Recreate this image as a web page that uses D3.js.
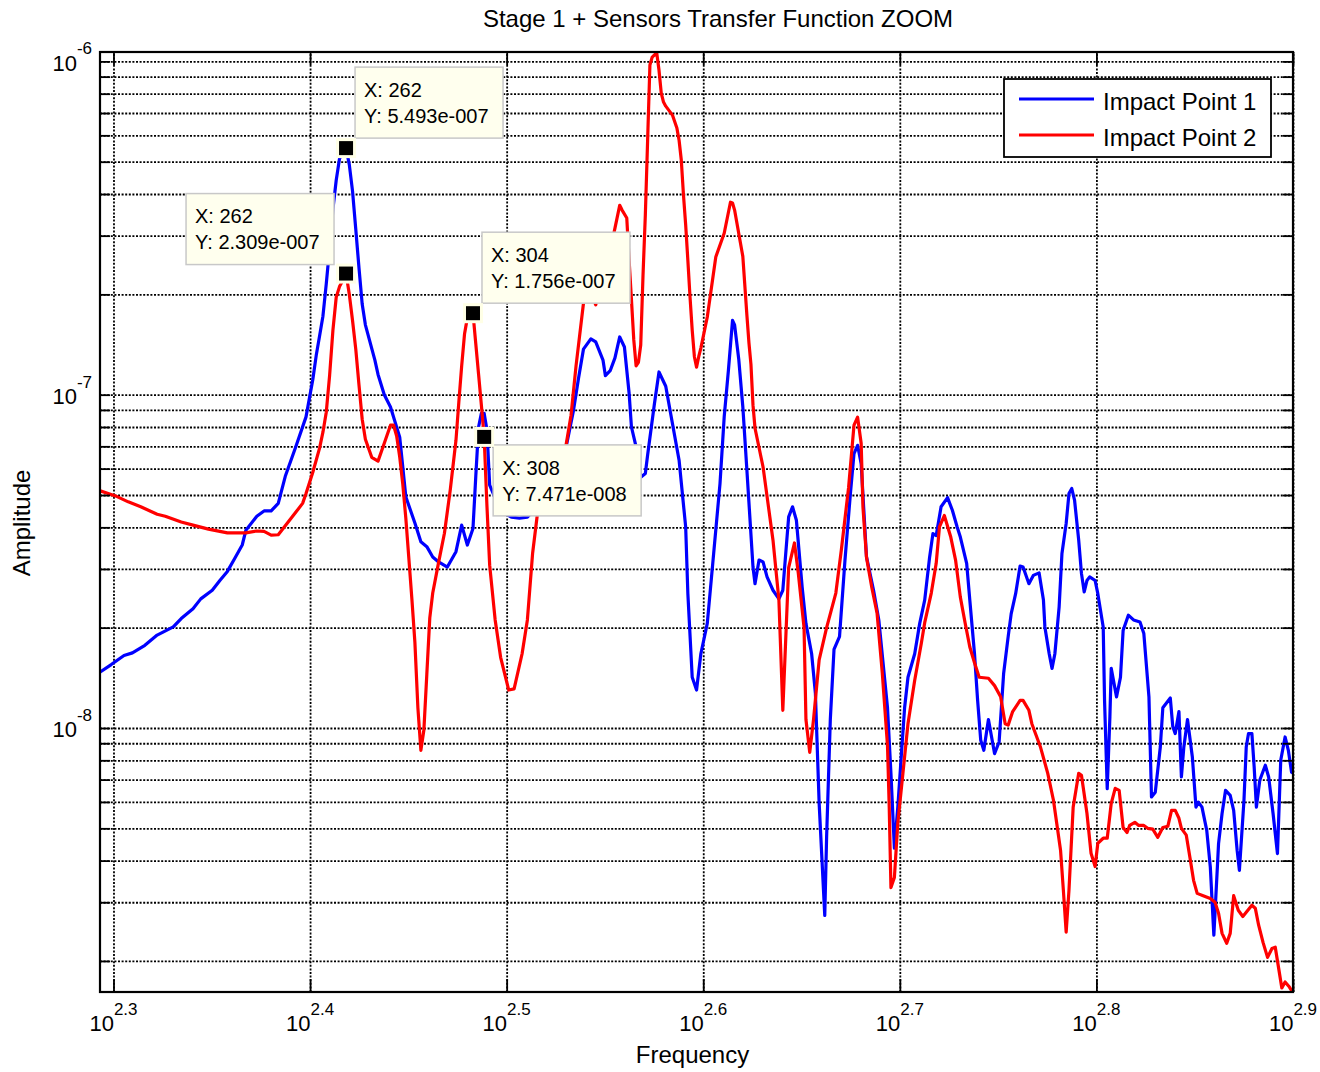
<!DOCTYPE html>
<html>
<head>
<meta charset="utf-8">
<script src="https://cdn.jsdelivr.net/npm/d3@7"></script>
<style>
  html, body { margin: 0; padding: 0; background: #fff; }
  svg { display: block; font-family: "Liberation Sans", Arial, Helvetica, sans-serif; }
</style>
</head>
<body>
<svg id="chart" width="1320" height="1072"></svg>
<script>
// ---- Measured transfer function, Impact Point 1 (frequency in Hz, amplitude) ----
const freq1 = [
  196,199,202,204,207,210,214,216,219,221,
  224,226,228,230,232,233,236,238,240,242,
  244,247,250,252,253,254,255,256,257,258,
  259,260,261,262,263,264,265,266,267,268,
  271,272,274,276,279,281,284,286,288,290,
  292,295,298,300,302,304,305,306,307,308,
  309,310,312,315,318,321,324,327,330,333,
  336,339,342,344,346,349,351,354,355,357,
  359,361,363,365,366,368,370,372,373,376,
  378,381,384,387,390,391,393,395,397,400,
  403,406,408,410,412,413,415,417,419,422,
  423,425,427,429,432,435,437,440,442,444,
  447,449,452,454,456,459,460,462,464,467,
  470,473,475,477,479,482,486,489,494,496,
  498,500,502,504,506,510,513,516,519,521,
  523,526,530,533,536,538,542,544,547,549,
  551,553,556,560,563,566,569,571,574,577,
  579,583,586,590,593,594,597,599,601,604,
  606,609,611,613,615,618,620,622,624,626,
  630,632,636,637,639,641,642,646,649,651,
  655,659,664,667,671,673,676,680,682,688,
  690,692,695,697,699,702,706,709,711,714,
  718,721,724,727,728,731,734,738,741,744,
  746,750,752,754,757,759,761,764,769,772,
  776,780,783,787,790,793,795
];
const amp1 = [
  1.46e-8,1.55e-8,1.65e-8,1.68e-8,1.77e-8,1.90e-8,2.01e-8,2.13e-8,2.28e-8,2.44e-8,
  2.59e-8,2.77e-8,2.95e-8,3.23e-8,3.54e-8,3.92e-8,4.32e-8,4.48e-8,4.48e-8,4.72e-8,
  5.69e-8,6.97e-8,8.58e-8,1.11e-7,1.31e-7,1.50e-7,1.72e-7,2.15e-7,2.75e-7,3.60e-7,
  4.40e-7,5.10e-7,5.35e-7,5.493e-7,4.90e-7,4.08e-7,3.14e-7,2.40e-7,1.87e-7,1.62e-7,
  1.27e-7,1.15e-7,1.00e-7,9.19e-8,7.46e-8,4.94e-8,4.12e-8,3.62e-8,3.50e-8,3.26e-8,
  3.15e-8,3.04e-8,3.38e-8,4.06e-8,3.54e-8,3.97e-8,5.70e-8,8.00e-8,8.79e-8,8.79e-8,
  7.85e-8,5.35e-8,4.89e-8,4.44e-8,4.29e-8,4.26e-8,4.29e-8,4.56e-8,4.99e-8,5.73e-8,
  6.59e-8,6.95e-8,8.99e-8,1.12e-7,1.37e-7,1.47e-7,1.44e-7,1.27e-7,1.14e-7,1.18e-7,
  1.29e-7,1.49e-7,1.39e-7,1.01e-7,8.00e-8,6.97e-8,5.65e-8,5.80e-8,6.59e-8,9.41e-8,
  1.17e-7,1.06e-7,8.19e-8,6.36e-8,4.01e-8,2.53e-8,1.42e-8,1.30e-8,1.67e-8,2.06e-8,
  3.34e-8,5.41e-8,8.58e-8,1.18e-7,1.67e-7,1.62e-7,1.28e-7,9.20e-8,5.93e-8,3.04e-8,
  2.71e-8,3.19e-8,3.15e-8,2.84e-8,2.59e-8,2.44e-8,2.59e-8,4.30e-8,4.61e-8,4.20e-8,
  2.65e-8,2.06e-8,1.67e-8,1.27e-8,5.94e-9,2.74e-9,4.71e-9,1.06e-8,1.72e-8,1.88e-8,
  3.19e-8,5.05e-8,6.66e-8,7.05e-8,6.21e-8,3.26e-8,2.59e-8,2.11e-8,1.15e-8,7.30e-9,
  4.36e-9,5.79e-9,8.18e-9,1.15e-8,1.42e-8,1.67e-8,2.06e-8,2.42e-8,3.26e-8,3.83e-8,
  3.78e-8,4.61e-8,4.91e-8,4.50e-8,4.01e-8,3.74e-8,3.12e-8,2.42e-8,1.67e-8,1.21e-8,
  9.19e-9,8.57e-9,1.06e-8,8.38e-9,9.08e-9,1.46e-8,1.88e-8,2.20e-8,2.53e-8,3.06e-8,
  3.04e-8,2.71e-8,2.87e-8,2.92e-8,2.42e-8,2.01e-8,1.67e-8,1.51e-8,1.67e-8,2.31e-8,
  3.34e-8,4.11e-8,5.05e-8,5.23e-8,4.83e-8,3.66e-8,2.91e-8,2.56e-8,2.77e-8,2.84e-8,
  2.77e-8,2.53e-8,2.01e-8,1.21e-8,6.58e-9,1.08e-8,1.51e-8,1.24e-8,1.42e-8,1.96e-8,
  2.18e-8,2.11e-8,2.08e-8,1.92e-8,1.24e-8,6.21e-9,6.42e-9,8.77e-9,1.15e-8,1.23e-8,
  1.01e-8,9.62e-9,1.12e-8,7.13e-9,8.77e-9,1.06e-8,8.18e-9,5.79e-9,5.99e-9,5.79e-9,
  4.93e-9,3.83e-9,2.39e-9,3.83e-9,4.50e-9,5.54e-9,6.50e-9,6.28e-9,5.66e-9,4.30e-9,
  3.74e-9,6.07e-9,8.77e-9,9.62e-9,9.62e-9,7.64e-9,5.79e-9,6.97e-9,7.73e-9,7.13e-9,
  5.54e-9,4.20e-9,8.00e-9,9.40e-9,8.57e-9,7.37e-9,7.30e-9
];

// ---- Measured transfer function, Impact Point 2 ----
const freq2 = [
  196,200,203,206,210,212,216,219,223,228,
  233,236,238,240,242,243,246,249,250,252,
  254,255,256,257,258,259,260,261,262,263,
  264,265,266,267,268,270,272,274,276,277,
  278,279,280,281,282,283,284,285,286,287,
  288,289,290,292,294,296,298,299,300,301,
  302,303,304,305,306,307,308,309,310,312,
  314,317,319,322,324,326,328,330,333,336,
  339,341,343,346,348,351,354,357,359,361,
  362,364,365,366,367,368,369,370,371,372,
  373,374,375,376,377,378,379,380,381,382,
  384,386,387,388,389,390,391,392,393,394,
  395,396,397,400,404,408,411,412,413,417,
  419,420,421,422,423,427,432,435,437,440,
  443,445,448,449,451,453,456,460,465,468,
  472,475,477,479,480,482,485,488,491,494,
  495,496,498,500,503,506,510,514,516,520,
  523,525,528,532,535,538,541,544,547,550,
  556,560,564,567,569,572,577,579,583,585,
  591,596,600,605,607,609,611,614,618,620,
  624,627,630,632,636,639,642,645,648,651,
  654,656,660,663,667,670,674,678,682,686,
  689,692,695,697,701,704,707,710,715,721,
  725,728,731,735,738,741,745,749,752,757,
  760,763,767,771,775,778,781,784,787,791,
  794
];
const amp2 = [
  5.17e-8,4.97e-8,4.77e-8,4.61e-8,4.38e-8,4.32e-8,4.15e-8,4.06e-8,3.95e-8,3.85e-8,
  3.85e-8,3.90e-8,3.89e-8,3.79e-8,3.80e-8,3.92e-8,4.30e-8,4.72e-8,5.05e-8,5.85e-8,
  6.91e-8,7.72e-8,8.86e-8,1.14e-7,1.56e-7,1.96e-7,2.11e-7,2.20e-7,2.309e-7,2.00e-7,
  1.67e-7,1.37e-7,1.07e-7,8.44e-8,7.35e-8,6.49e-8,6.32e-8,7.15e-8,8.10e-8,8.10e-8,
  7.52e-8,6.50e-8,5.39e-8,4.26e-8,3.23e-8,2.44e-8,1.81e-8,1.15e-8,8.57e-9,9.84e-9,
  1.45e-8,2.14e-8,2.54e-8,3.14e-8,3.84e-8,5.17e-8,7.30e-8,9.50e-8,1.22e-7,1.52e-7,
  1.70e-7,1.78e-7,1.756e-7,1.42e-7,1.15e-7,9.30e-8,7.471e-8,4.66e-8,3.08e-8,2.11e-8,
  1.63e-8,1.30e-8,1.31e-8,1.67e-8,2.11e-8,3.35e-8,4.50e-8,5.00e-8,5.85e-8,6.72e-8,
  7.05e-8,8.68e-8,1.22e-7,1.88e-7,2.09e-7,1.86e-7,2.29e-7,2.71e-7,3.16e-7,3.70e-7,
  3.58e-7,3.39e-7,2.53e-7,1.93e-7,1.46e-7,1.22e-7,1.25e-7,1.41e-7,2.29e-7,3.46e-7,
  5.80e-7,9.75e-7,1.03e-6,1.045e-6,1.06e-6,9.42e-7,8.03e-7,7.55e-7,7.34e-7,7.19e-7,
  6.90e-7,6.31e-7,5.80e-7,5.06e-7,3.97e-7,3.23e-7,2.53e-7,1.96e-7,1.56e-7,1.30e-7,
  1.21e-7,1.30e-7,1.38e-7,1.71e-7,2.59e-7,3.05e-7,3.78e-7,3.76e-7,3.58e-7,2.60e-7,
  1.73e-7,1.43e-7,1.23e-7,9.30e-8,7.93e-8,6.07e-8,3.66e-8,2.42e-8,1.13e-8,3.03e-8,
  3.59e-8,2.91e-8,2.00e-8,1.06e-8,8.45e-9,1.06e-8,1.60e-8,2.00e-8,2.54e-8,3.42e-8,
  5.27e-8,8.10e-8,8.56e-8,7.15e-8,4.60e-8,3.25e-8,2.64e-8,2.21e-8,1.46e-8,8.87e-9,
  5.80e-9,3.32e-9,3.56e-9,5.18e-9,7.31e-9,1.03e-8,1.39e-8,1.80e-8,2.07e-8,2.54e-8,
  3.12e-8,4.01e-8,4.34e-8,3.74e-8,3.19e-8,2.47e-8,2.07e-8,1.75e-8,1.57e-8,1.42e-8,
  1.41e-8,1.34e-8,1.24e-8,1.03e-8,1.02e-8,1.12e-8,1.21e-8,1.21e-8,1.13e-8,1.03e-8,
  8.75e-9,7.31e-9,6.07e-9,4.30e-9,3.26e-9,2.44e-9,3.26e-9,5.78e-9,7.31e-9,7.21e-9,
  5.55e-9,4.21e-9,3.84e-9,4.51e-9,4.67e-9,4.67e-9,5.94e-9,6.59e-9,6.50e-9,5.03e-9,
  4.86e-9,5.10e-9,5.21e-9,5.10e-9,5.10e-9,5.00e-9,4.97e-9,4.70e-9,5.03e-9,5.07e-9,
  5.66e-9,5.66e-9,5.36e-9,5.00e-9,4.77e-9,4.09e-9,3.49e-9,3.19e-9,3.14e-9,3.08e-9,
  3.00e-9,2.78e-9,2.42e-9,2.26e-9,2.42e-9,3.14e-9,2.84e-9,2.72e-9,2.80e-9,2.94e-9,
  2.88e-9,2.56e-9,2.27e-9,2.05e-9,2.18e-9,2.20e-9,1.91e-9,1.66e-9,1.73e-9,1.67e-9,
  1.61e-9
];

const seriesNames = ["Impact Point 1", "Impact Point 2"];
const xTickExponents = [2.3, 2.4, 2.5, 2.6, 2.7, 2.8, 2.9];
const yTickExponents = [-8, -7, -6];

// Data cursors: which series and which frequency they sit on
const tipSeries = [0, 1, 1, 1];
const tipFreqs = [262, 262, 304, 308];

// ---------------- drawing ----------------
const W = 1320, H = 1072;
const plot = { left: 100, top: 52, right: 1293, bottom: 992 };
const colors = ["#0000ff", "#ff0000"];

const x = d3.scaleLog().domain([196.4, 794.33]).range([plot.left, plot.right]);
const y = d3.scaleLog().domain([1.614e-9, 1.067e-6]).range([plot.bottom, plot.top]);

const svg = d3.select("#chart");
svg.append("rect").attr("width", W).attr("height", H).attr("fill", "#fff");

const xTicks = xTickExponents.map(e => Math.pow(10, e));
const yTicks = [];
for (let e = -9; e <= -6; e++) {
  for (let m = 1; m <= 9; m++) {
    const v = m * Math.pow(10, e);
    if (v >= y.domain()[0] && v <= y.domain()[1]) yTicks.push(v);
  }
}

// dotted grid
const grid = svg.append("g");
grid.append("g").attr("transform", `translate(0,${plot.bottom})`)
  .call(d3.axisBottom(x).tickValues(xTicks).tickSize(-(plot.bottom - plot.top)).tickFormat(""));
grid.append("g").attr("transform", `translate(${plot.left},0)`)
  .call(d3.axisLeft(y).tickValues(yTicks).tickSize(-(plot.right - plot.left)).tickFormat(""));
grid.selectAll(".domain").remove();
grid.selectAll("line")
  .attr("stroke", "#000").attr("stroke-width", 1.8).attr("stroke-dasharray", "2,1.6");

// curves
svg.append("defs").append("clipPath").attr("id", "plotClip")
  .append("rect").attr("x", plot.left).attr("y", plot.top)
  .attr("width", plot.right - plot.left).attr("height", plot.bottom - plot.top);

const series = [
  freq1.map((f, i) => ({ f, a: amp1[i] })),
  freq2.map((f, i) => ({ f, a: amp2[i] }))
];
const line = d3.line().x(d => x(d.f)).y(d => y(d.a));
const curves = svg.append("g").attr("clip-path", "url(#plotClip)");
series.forEach((s, i) => {
  curves.append("path").datum(s).attr("d", line)
    .attr("fill", "none").attr("stroke", colors[i]).attr("stroke-width", 3.2)
    .attr("stroke-linejoin", "round").attr("stroke-linecap", "round");
});

// frame and inward ticks
const axes = svg.append("g");
axes.append("g").attr("transform", `translate(0,${plot.bottom})`)
  .call(d3.axisBottom(x).tickValues(xTicks).tickSizeInner(-13).tickSizeOuter(0).tickFormat(""));
axes.append("g").attr("transform", `translate(0,${plot.top})`)
  .call(d3.axisTop(x).tickValues(xTicks).tickSizeInner(-13).tickSizeOuter(0).tickFormat(""));
axes.append("g").attr("transform", `translate(${plot.left},0)`)
  .call(d3.axisLeft(y).tickValues(yTicks).tickSizeInner(-10).tickSizeOuter(0).tickFormat(""));
axes.append("g").attr("transform", `translate(${plot.right},0)`)
  .call(d3.axisRight(y).tickValues(yTicks).tickSizeInner(-10).tickSizeOuter(0).tickFormat(""));
axes.selectAll(".domain").remove();
axes.selectAll("line").attr("stroke", "#000").attr("stroke-width", 1.8);
axes.append("rect").attr("x", plot.left).attr("y", plot.top)
  .attr("width", plot.right - plot.left).attr("height", plot.bottom - plot.top)
  .attr("fill", "none").attr("stroke", "#000").attr("stroke-width", 2.2);

// tick labels as powers of ten
const labels = svg.append("g").attr("fill", "#000");
xTickExponents.forEach(e => {
  const t = labels.append("text").attr("x", x(Math.pow(10, e))).attr("y", plot.bottom + 38.7)
    .attr("text-anchor", "middle").attr("font-size", 22);
  t.append("tspan").text("10");
  t.append("tspan").attr("font-size", 17).attr("dy", -15.7).text(e.toFixed(1));
});
yTickExponents.forEach(e => {
  const t = labels.append("text").attr("x", plot.left - 8).attr("y", y(Math.pow(10, e)) + 9.3)
    .attr("text-anchor", "end").attr("font-size", 22);
  t.append("tspan").text("10");
  t.append("tspan").attr("font-size", 17).attr("dy", -16.4).text(String(e));
});

// titles
svg.append("text").attr("x", 718).attr("y", 26.5).attr("text-anchor", "middle")
  .attr("font-size", 24).text("Stage 1 + Sensors Transfer Function ZOOM");
svg.append("text").attr("x", 692.5).attr("y", 1062.5).attr("text-anchor", "middle")
  .attr("font-size", 24).text("Frequency");
svg.append("text").attr("transform", "translate(30,523) rotate(-90)").attr("text-anchor", "middle")
  .attr("font-size", 24).text("Amplitude");

// data cursors
function matlabExp(v) {
  const [m, e] = v.toExponential(3).split("e");
  const n = parseInt(e, 10);
  return m + "e" + (n < 0 ? "-" : "+") + String(Math.abs(n)).padStart(3, "0");
}
const tipOffsets = [[9, -81], [-160, -80], [9, -81], [9, 8]];
const tips = svg.append("g");
tipFreqs.forEach((f, k) => {
  const si = tipSeries[k];
  const fr = si === 0 ? freq1 : freq2;
  const am = si === 0 ? amp1 : amp2;
  const a = am[fr.indexOf(f)];
  const px = x(f), py = y(a);
  const bx = px + tipOffsets[k][0], by = py + tipOffsets[k][1];
  tips.append("rect").attr("x", bx).attr("y", by).attr("width", 148).attr("height", 71)
    .attr("fill", "#ffffee").attr("stroke", "#c8c8c8").attr("stroke-width", 1.5);
  tips.append("text").attr("x", bx + 9).attr("y", by + 29.7).attr("font-size", 20).text("X: " + f);
  tips.append("text").attr("x", bx + 9).attr("y", by + 55.7).attr("font-size", 20).text("Y: " + matlabExp(a));
  tips.append("rect").attr("x", px - 10).attr("y", py - 10).attr("width", 20).attr("height", 20)
    .attr("fill", "#ffffe6");
  tips.append("rect").attr("x", px - 7).attr("y", py - 7).attr("width", 14).attr("height", 14)
    .attr("fill", "#000");
});

// legend
const lg = svg.append("g");
lg.append("rect").attr("x", 1004).attr("y", 79).attr("width", 267).attr("height", 78)
  .attr("fill", "#fff").attr("stroke", "#000").attr("stroke-width", 1.8);
seriesNames.forEach((name, i) => {
  const ly = 99 + i * 36;
  lg.append("line").attr("x1", 1019).attr("x2", 1094).attr("y1", ly).attr("y2", ly)
    .attr("stroke", colors[i]).attr("stroke-width", 3.2);
  lg.append("text").attr("x", 1103).attr("y", ly + 11).attr("font-size", 24).text(name);
});
</script>
</body>
</html>
